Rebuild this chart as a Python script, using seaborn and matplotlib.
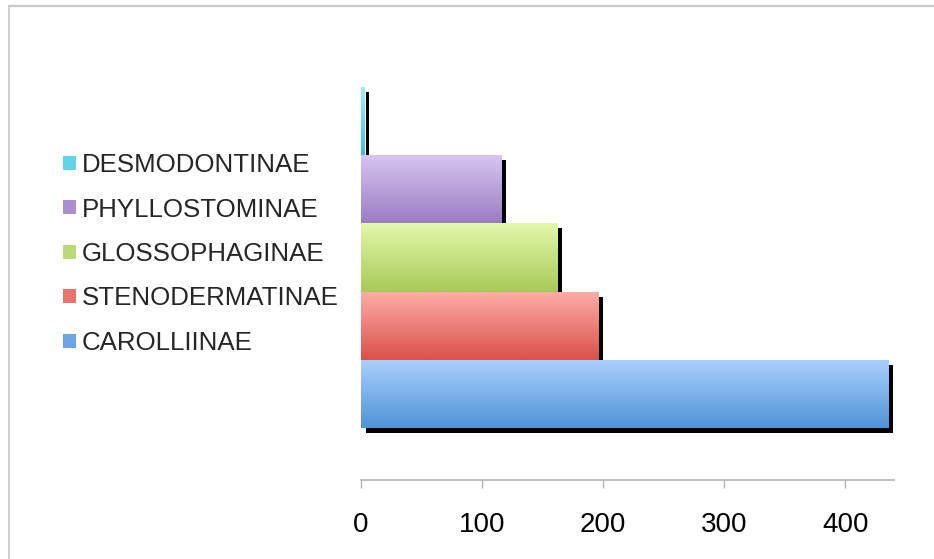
import numpy as np
import matplotlib
matplotlib.use("Agg")
import matplotlib.pyplot as plt
import matplotlib.patheffects as pe
from matplotlib.colors import to_rgb
from matplotlib.lines import Line2D
from matplotlib.patches import Patch
import seaborn as sns

# data (top bar first)
subfamilies = ["DESMODONTINAE", "PHYLLOSTOMINAE", "GLOSSOPHAGINAE", "STENODERMATINAE", "CAROLLIINAE"]
counts = [3, 116, 162, 196, 435]
x_ticks = [0, 100, 200, 300, 400]

# gradient colours, light at the top of each bar, dark at the bottom
top_colors = ["#a4eefc", "#d8c6f2", "#e2f8aa", "#ffaca8", "#aad0fc"]
bottom_colors = ["#3cc2de", "#9a7dc2", "#a8ca58", "#d9524a", "#4f94d8"]
legend_colors = ["#62d4ea", "#a98ed0", "#bcd977", "#e9746c", "#6ca6e2"]

sns.set_theme(style="white")
plt.rcParams["font.family"] = ["Liberation Sans", "DejaVu Sans"]

fig = plt.figure(figsize=(9.34, 5.59), dpi=100)
ax = fig.add_axes([0.386, 0.1413, 0.957 - 0.386, 0.8444 - 0.1413])

sns.barplot(x=counts, y=subfamilies, hue=subfamilies, palette=legend_colors,
            orient="h", width=1.0, legend=False, ax=ax, saturation=1)

# shadow + gradient fill on each bar
shadow = [pe.SimplePatchShadow(offset=(3.6, -3.6), shadow_rgbFace="black", alpha=1.0), pe.Normal()]
for i, bar in enumerate(ax.patches):
    bar.set_path_effects(shadow)
    bar.set_edgecolor("none")
    x0, y0 = bar.get_x(), bar.get_y()
    w, h = bar.get_width(), bar.get_height()
    c1, c2 = np.array(to_rgb(top_colors[i])), np.array(to_rgb(bottom_colors[i]))
    t = np.linspace(0, 1, 64)[:, None, None]
    grad = c1 * (1 - t) + c2 * t
    im = ax.imshow(grad, extent=(x0, x0 + w, y0 + h, y0), origin="upper",
                   aspect="auto", zorder=3, interpolation="bilinear")
    im.set_clip_path(bar)

ax.set_xlim(0, 440)
ax.set_ylim(5.26, -0.5)
ax.set_xticks(x_ticks)
ax.set_yticks([])
ax.set_xlabel("")
ax.set_ylabel("")
for side in ["top", "right", "left"]:
    ax.spines[side].set_visible(False)
ax.spines["bottom"].set_color("#b4b4b4")
ax.spines["bottom"].set_linewidth(1.2)
ax.tick_params(axis="x", bottom=True, direction="out", length=5.8, width=1,
               color="#b4b4b4", pad=17, labelsize=20, labelcolor="black")

handles = [Patch(facecolor=c, edgecolor="none") for c in legend_colors]
fig.legend(handles, subfamilies, loc="center left", bbox_to_anchor=(0.0671, 0.5456),
           frameon=False, fontsize=18.6, handlelength=0.5, handleheight=0.45,
           handletextpad=0.25, labelspacing=0.79, borderpad=0, borderaxespad=0)

# light grey frame on top and left
fig.add_artist(Line2D([0.0096, 1.0], [0.989, 0.989], color="#c8c8c8", lw=1.6))
fig.add_artist(Line2D([0.0096, 0.0096], [0.0, 0.989], color="#c8c8c8", lw=1.2))

fig.savefig("out.png", dpi=100, facecolor="white")
